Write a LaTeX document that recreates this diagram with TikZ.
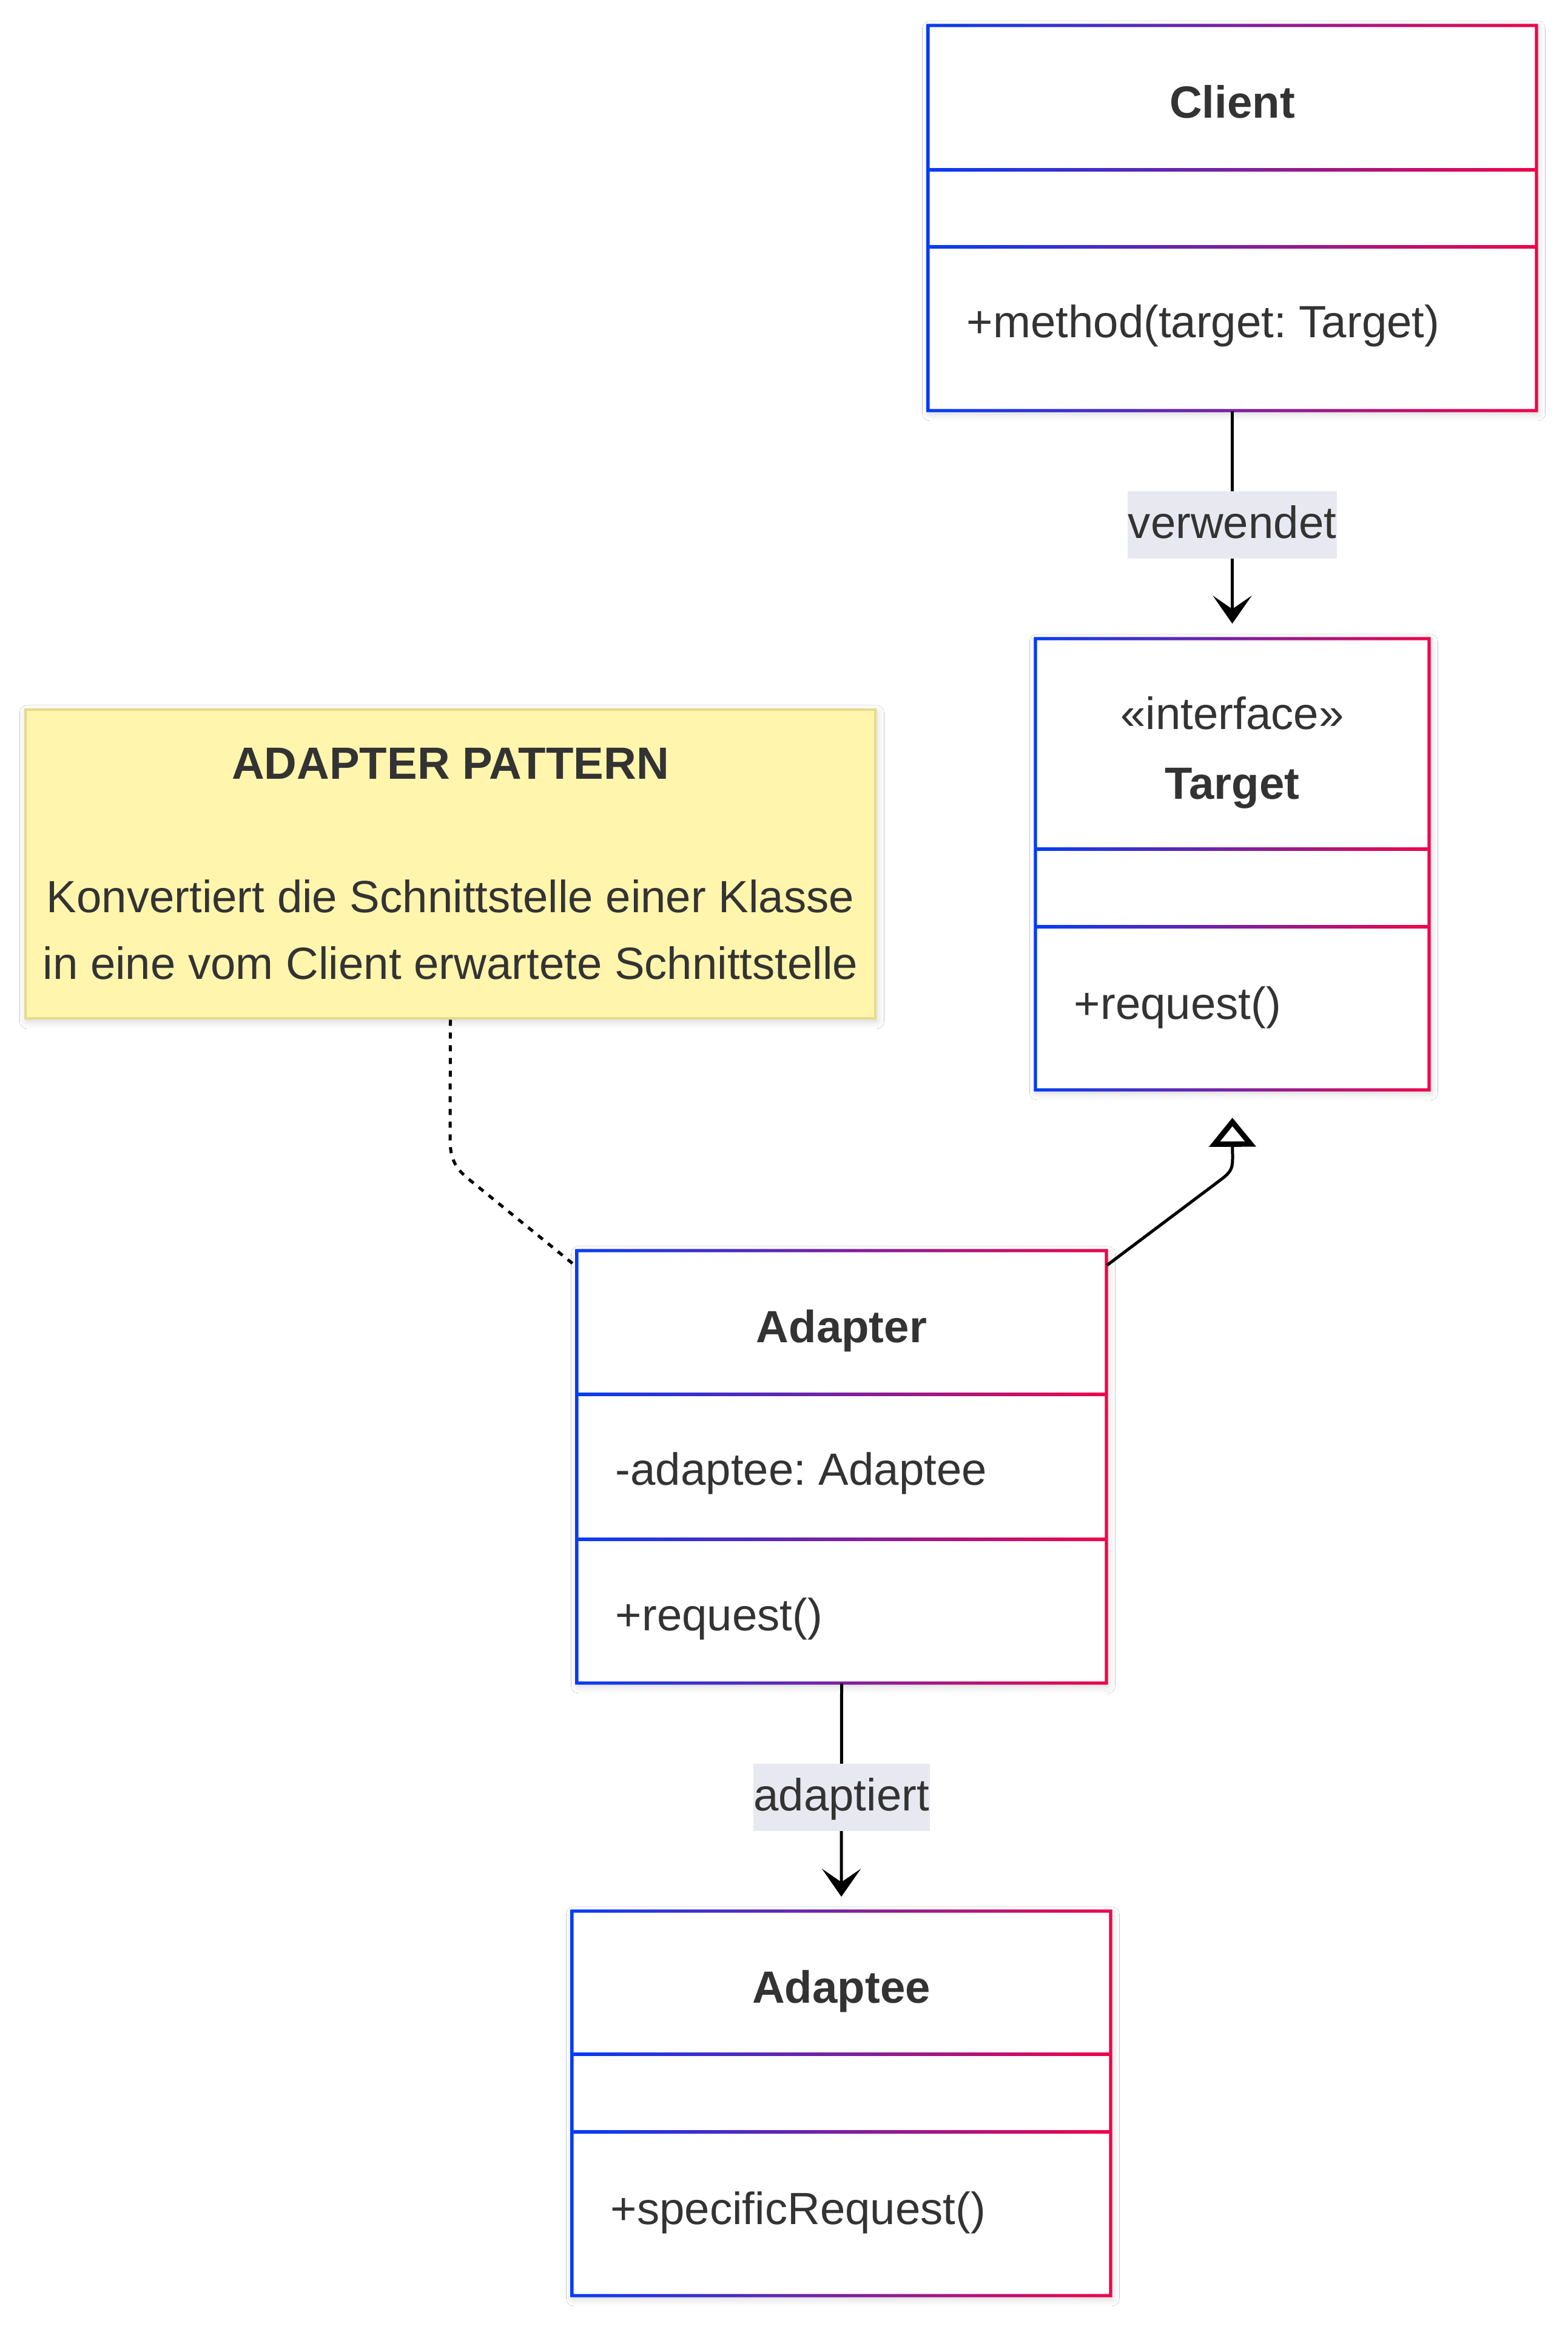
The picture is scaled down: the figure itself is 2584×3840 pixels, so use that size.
\documentclass[tikz,border=0pt]{standalone}
\usepackage{fontspec}
\setmainfont{Liberation Sans}
\frenchspacing
\usetikzlibrary{arrows.meta,calc,fit,shadows.blur}
\definecolor{umlblue}{RGB}{5,60,245}
\definecolor{umlred}{RGB}{240,5,75}
\definecolor{txt}{HTML}{333333}
\definecolor{lblbg}{RGB}{232,232,241}
\definecolor{notefill}{HTML}{FFF5AD}
\definecolor{notebd}{HTML}{E6DA8C}
\tikzset{
  gradborder/.style={left color=umlblue, right color=umlred},
  boxshadow/.style={blur shadow={shadow xshift=0.6pt, shadow yshift=-1.2pt, shadow blur radius=3pt, shadow opacity=18}},
  basefont/.style={font=\fontsize{18.6pt}{27.5pt}\selectfont, text=txt},
  ttl/.style={basefont, anchor=base, inner sep=0pt, font=\fontsize{18.6pt}{27.5pt}\selectfont\bfseries},
  ster/.style={basefont, anchor=base, inner sep=0pt},
  mem/.style={basefont, anchor=base west, inner sep=0pt},
  elabel/.style={basefont, fill=lblbg, inner xsep=0.2pt, inner ysep=0pt, minimum height=27.75pt, text height=13.25pt, text depth=2pt},
  notebox/.style={basefont, draw=notebd, line width=1.2pt, fill=notefill, align=center, inner sep=0pt, boxshadow},
  conn/.style={draw=black, line width=1.25pt},
  dep/.style={conn, -{Stealth[length=11.5pt, width=16pt, inset=5.5pt]}},
  real/.style={conn, -{Triangle[open, length=12pt, width=19pt, line width=2.2pt]}},
  notelink/.style={conn, dash pattern=on 2.5pt off 2.75pt},
}
% #1 name, #2 x1, #3 y1, #4 x2, #5 y2, #6 divider 1, #7 divider 2
\newcommand{\classbox}[7]{%
  \fill[white, boxshadow] (#2,#3) rectangle (#4,#5);
  \node[fit={(#2,#3)(#4,#5)}, inner sep=0pt] (#1) {};
  \shade[gradborder, even odd rule] (#2-2.6,#3-2.6) rectangle (#4+2.6,#5+2.6) (#2+2.6,#3+2.6) rectangle (#4-2.6,#5-2.6);
  \shade[gradborder] (#2,#6-2.2) rectangle (#4,#6+2.2);
  \shade[gradborder] (#2,#7-2.2) rectangle (#4,#7+2.2);
}
\begin{document}
\begin{tikzpicture}[x=0.25pt, y=-0.25pt]
\useasboundingbox[fill=white] (0,0) rectangle (2584,3840);

% Client
\classbox{client}{1530}{42}{2533}{677}{280}{407}
\node[ttl] (clientT) at (2031.5,195) {Client};
\node[mem] (clientM) at (1593,557) {+method(target: Target)};

% Target
\classbox{target}{1707}{1053}{2356}{1797}{1400}{1528}
\node[ster] (targetS) at (2031.5,1202) {«interface»};
\node[ttl] (targetT) at (2031.5,1317) {Target};
\node[mem] (targetM) at (1770,1680) {+request()};

% Adapter
\classbox{adapter}{951}{2062}{1824}{2775}{2299}{2538}
\node[ttl] (adapterT) at (1387.5,2213) {Adapter};
\node[mem] (adapterA) at (1014,2448) {-adaptee: Adaptee};
\node[mem] (adapterM) at (1014,2688) {+request()};

% Adaptee
\classbox{adaptee}{943}{3151}{1831}{3785}{3387}{3515}
\node[ttl] (adapteeT) at (1387,3302) {Adaptee};
\node[mem] (adapteeM) at (1006,3667) {+specificRequest()};

% Note
\node[notebox, minimum width=350.25pt, minimum height=127.25pt] (note) at (742.5,1424.5)
  {\textbf{ADAPTER PATTERN}\\[27.5pt]Konvertiert die Schnittstelle einer Klasse\\in eine vom Client erwartete Schnittstelle};

% Connectors
\draw[dep, shorten >=6pt] (client.south) -- (target.north)
  node[elabel, pos=0.5] (lblV) {verwendet};
\draw[dep, shorten >=5.75pt] (adapter.south) -- (adaptee.north)
  node[elabel, pos=0.5] (lblA) {adaptiert};

\coordinate (adR) at ($(adapter.north east)+(0,25)$);
\coordinate (adL) at ($(adapter.north west)+(-5,23)$);
\draw[real, shorten >=11.25pt] (adR) -- (2014,1944) .. controls (2030,1932) and (2032,1925) .. (2032,1910) -- (target.south);
\draw[notelink] (note.south) -- (742,1880) .. controls (742,1915) and (755,1930) .. (775,1946) -- (adL);
\end{tikzpicture}
\end{document}
